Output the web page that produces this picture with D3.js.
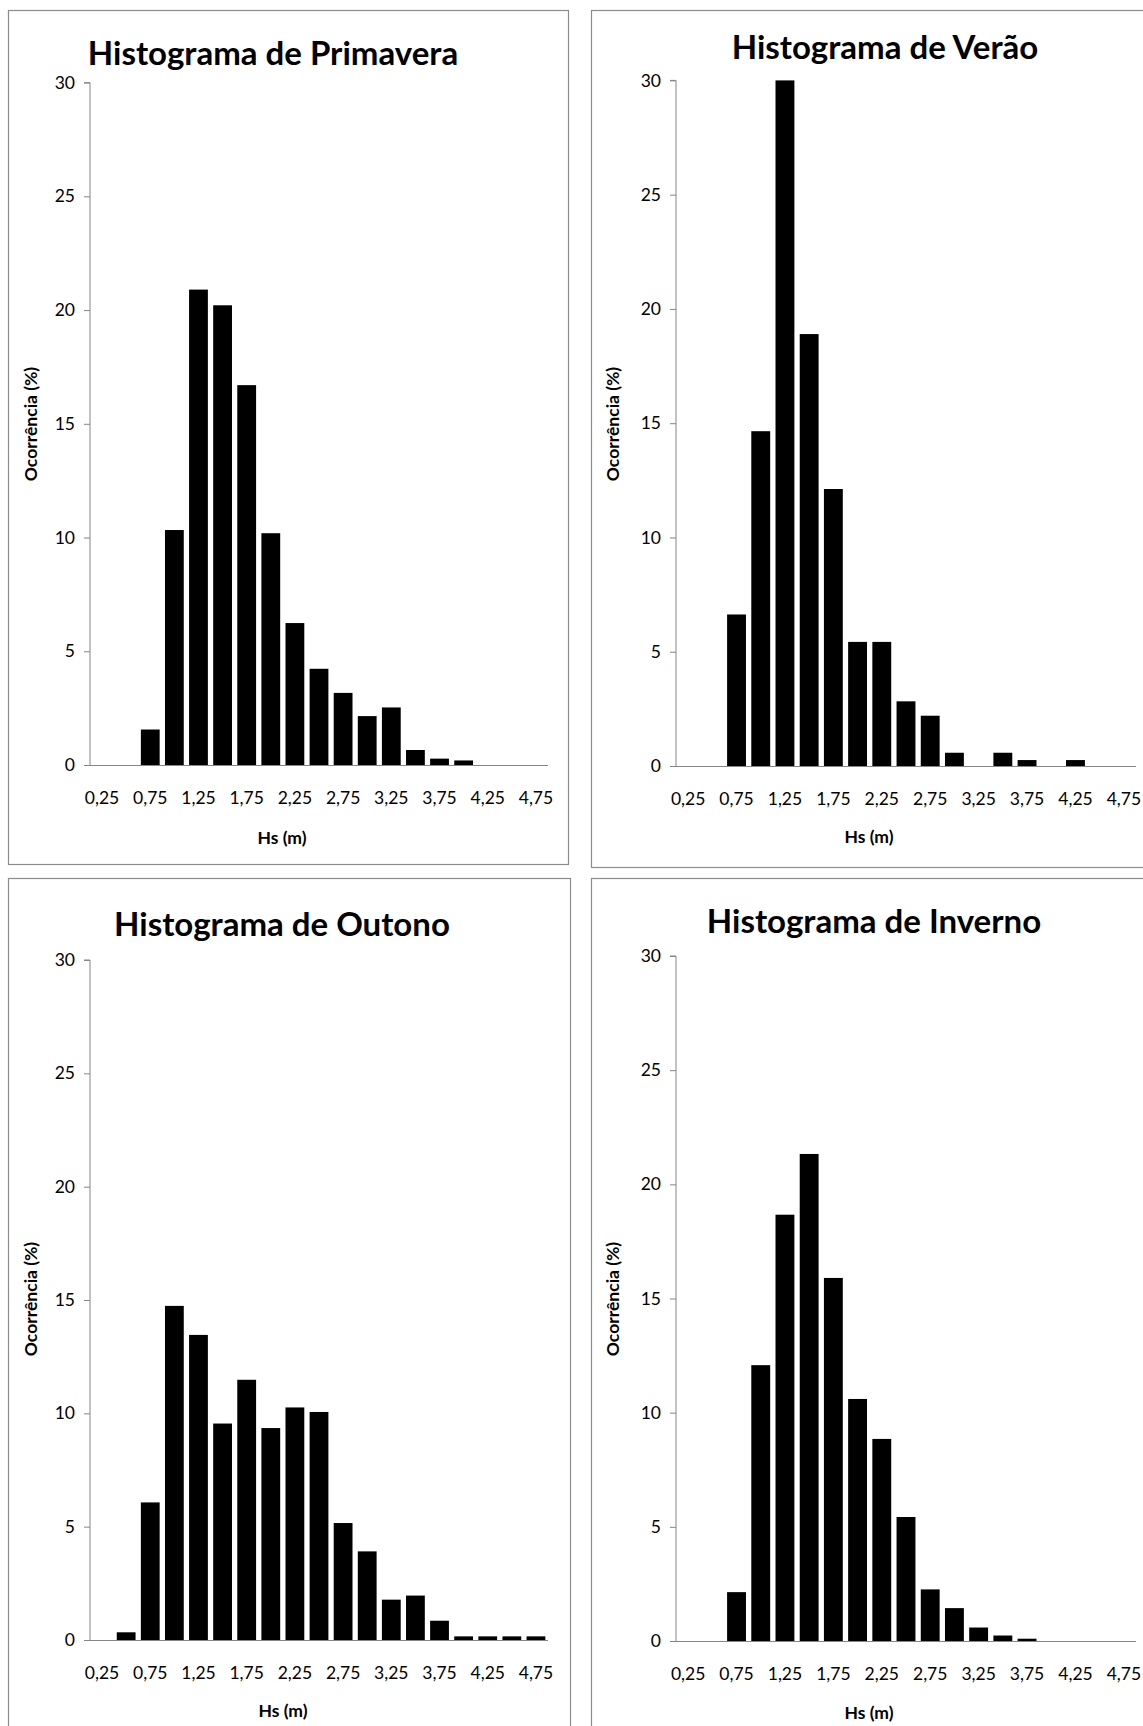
<!DOCTYPE html>
<html>
<head>
<meta charset="utf-8">
<script src="https://cdn.jsdelivr.net/npm/d3@7"></script>
<style>
  html, body { margin: 0; padding: 0; background: #fff; }
  svg { display: block; }
</style>
</head>
<body>
<svg id="chart" width="1143" height="1726"></svg>
<script>
// Wave height classes (Hs, m) — one bar per class
const bins = [0.25, 0.5, 0.75, 1.0, 1.25, 1.5, 1.75, 2.0, 2.25, 2.5, 2.75, 3.0, 3.25, 3.5, 3.75, 4.0, 4.25, 4.5, 4.75];
// Labels shown under every other class
const tickLabels = ["0,25", "0,75", "1,25", "1,75", "2,25", "2,75", "3,25", "3,75", "4,25", "4,75"];
const labelBins = [0.25, 0.75, 1.25, 1.75, 2.25, 2.75, 3.25, 3.75, 4.25, 4.75];
const yTicks = [0, 5, 10, 15, 20, 25, 30];

// Occurrence (%) per class, by season
const primavera = [0, 0, 1.56, 10.33, 20.9, 20.21, 16.7, 10.19, 6.24, 4.23, 3.17, 2.15, 2.53, 0.66, 0.28, 0.2, 0, 0, 0];
const verao     = [0, 0, 6.63, 14.65, 30.0, 18.9, 12.12, 5.43, 5.43, 2.83, 2.2, 0.58, 0, 0.58, 0.26, 0, 0.26, 0, 0];
const outono    = [0, 0.34, 6.07, 14.74, 13.46, 9.55, 11.48, 9.35, 10.26, 10.06, 5.16, 3.91, 1.78, 1.96, 0.85, 0.16, 0.16, 0.16, 0.16];
const inverno   = [0, 0, 2.14, 12.08, 18.67, 21.33, 15.9, 10.6, 8.85, 5.43, 2.26, 1.44, 0.59, 0.24, 0.1, 0, 0, 0, 0];

const titles = ["Histograma de Primavera", "Histograma de Verão", "Histograma de Outono", "Histograma de Inverno"];
const seriesList = [primavera, verao, outono, inverno];
const yTitle = "Ocorrência (%)";
const xTitle = "Hs (m)";

// Placement of each chart box on the page
const layouts = [
  { box: [8, 10, 560, 854],   plot: [90, 548, 82.6, 765],   title: [273, 52],  xt: [282, 837],  yt: [30, 424] },
  { box: [591, 10, 570, 857], plot: [676, 1136, 80.4, 766], title: [885, 46],  xt: [869, 836],  yt: [612, 424] },
  { box: [8, 878, 562, 870],  plot: [90, 548, 960, 1640],   title: [282, 923], xt: [283, 1710], yt: [30, 1299] },
  { box: [591, 878, 570, 870],plot: [676, 1136, 956, 1641], title: [874, 920], xt: [869, 1712], yt: [612, 1299] }
];

const FONT = "Lato, 'Open Sans', 'DejaVu Sans', sans-serif";
const AXIS = "#868686";
const svg = d3.select("#chart");

seriesList.forEach((values, i) => {
  const L = layouts[i];
  const g = svg.append("g");

  // chart frame
  g.append("rect")
    .attr("x", L.box[0] + 0.5).attr("y", L.box[1] + 0.5)
    .attr("width", L.box[2]).attr("height", L.box[3])
    .attr("fill", "#fff").attr("stroke", "#8c8c8c").attr("stroke-width", 1.2);

  const [x0, x1, yTop, yBot] = L.plot;
  const x = d3.scaleBand().domain(bins).range([x0, x1]).paddingInner(0.22).paddingOuter(0.11);
  const y = d3.scaleLinear().domain([0, 30]).range([yBot, yTop]);

  // bars
  g.append("g").selectAll("rect")
    .data(bins.map((b, k) => ({ b, v: values[k] })).filter(d => d.v > 0))
    .join("rect")
    .attr("x", d => x(d.b))
    .attr("width", x.bandwidth())
    .attr("y", d => y(d.v))
    .attr("height", d => y(0) - y(d.v))
    .attr("fill", "#000");

  // y axis
  const yAxis = g.append("g")
    .attr("transform", `translate(${x0},0)`)
    .call(d3.axisLeft(y).tickValues(yTicks).tickSize(6).tickPadding(9).tickFormat(d3.format("d")));
  yAxis.select(".domain").attr("stroke", AXIS).attr("d", `M-6,${y(30)}H0V${y(0)}`);
  yAxis.selectAll(".tick line").attr("stroke", AXIS);
  yAxis.selectAll(".tick text").attr("font-family", FONT).attr("font-size", 17.5).attr("fill", "#000");

  // x axis (labels on alternate classes, no tick marks)
  const xAxis = g.append("g")
    .attr("transform", `translate(0,${yBot})`)
    .call(d3.axisBottom(x).tickValues(labelBins).tickSize(0).tickPadding(27)
      .tickFormat(d => tickLabels[labelBins.indexOf(d)]));
  xAxis.select(".domain").attr("stroke", AXIS).attr("d", `M${x0},0.5H${x1}`);
  xAxis.selectAll(".tick text").attr("font-family", FONT).attr("font-size", 17.5).attr("fill", "#000");

  // chart title
  g.append("text")
    .attr("x", L.title[0]).attr("y", L.title[1])
    .attr("text-anchor", "middle").attr("dominant-baseline", "central")
    .attr("font-family", FONT).attr("font-weight", 700).attr("font-size", 33)
    .text(titles[i]);

  // axis titles
  g.append("text")
    .attr("x", L.xt[0]).attr("y", L.xt[1])
    .attr("text-anchor", "middle").attr("dominant-baseline", "central")
    .attr("font-family", FONT).attr("font-weight", 700).attr("font-size", 17.5)
    .text(xTitle);
  g.append("text")
    .attr("transform", `translate(${L.yt[0]},${L.yt[1]}) rotate(-90)`)
    .attr("text-anchor", "middle").attr("dominant-baseline", "central")
    .attr("font-family", FONT).attr("font-weight", 700).attr("font-size", 17.5)
    .text(yTitle);
});
</script>
</body>
</html>
